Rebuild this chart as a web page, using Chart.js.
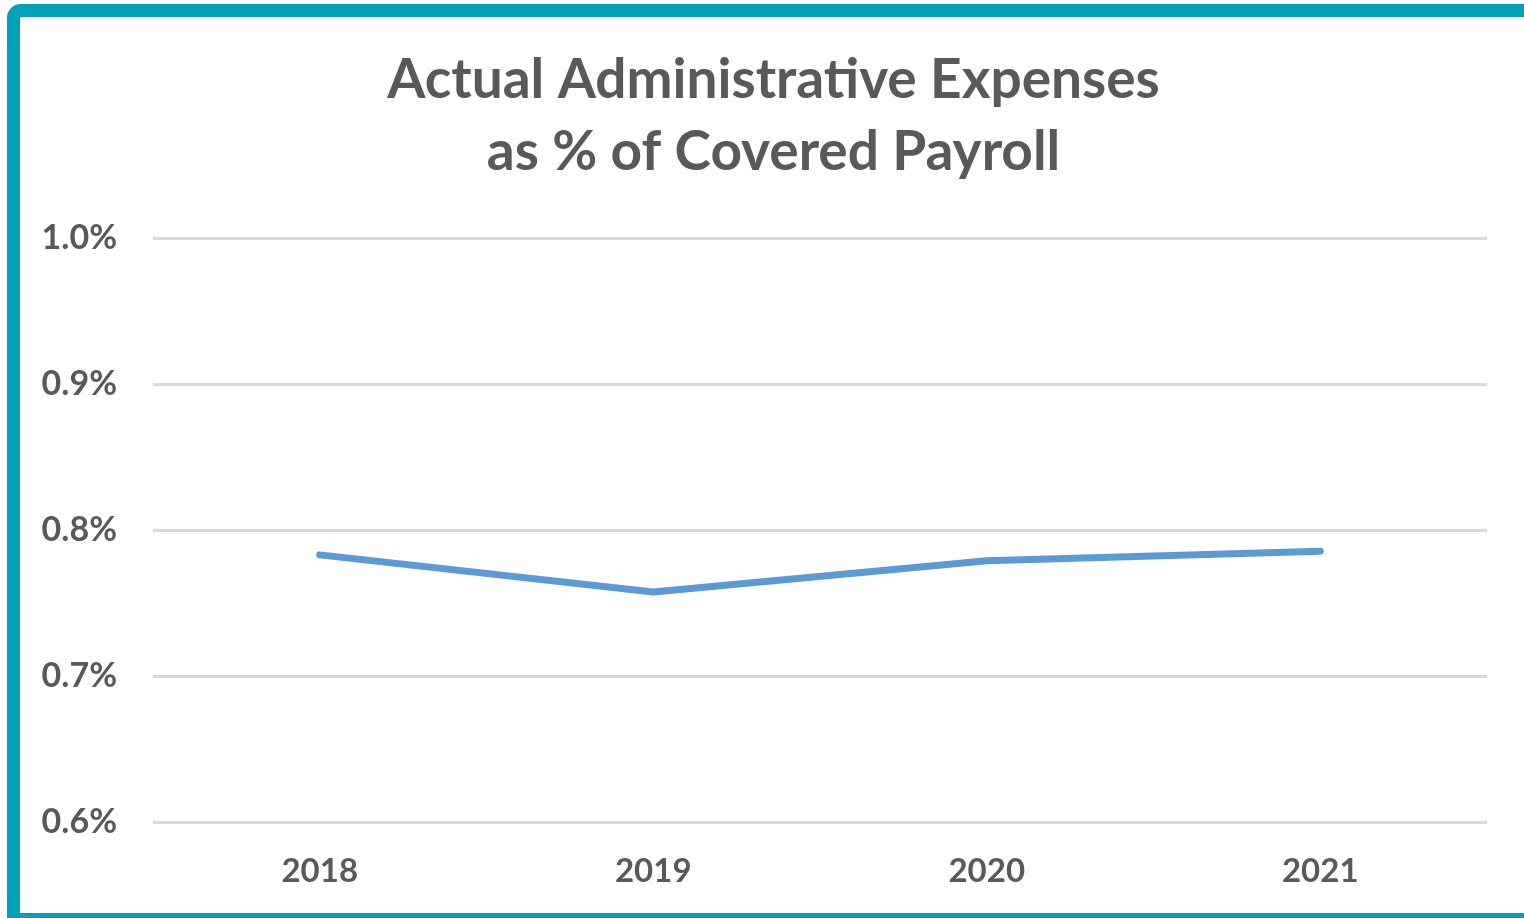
<!DOCTYPE html>
<html>
<head>
<meta charset="utf-8">
<script src="https://cdn.jsdelivr.net/npm/chart.js@4.4.1/dist/chart.umd.min.js"></script>
<style>
  html, body { margin: 0; padding: 0; background: #ffffff; overflow: hidden; }
  #frame { position: absolute; left: 7px; top: 4px; width: 1560px; height: 896px;
           border: 13px solid #00A2B6; border-top-left-radius: 14px; box-sizing: content-box; }
  #wrap { position: absolute; left: 0; top: 0; width: 1524px; height: 918px; }
</style>
</head>
<body>
<div id="frame"></div>
<div id="wrap"><canvas id="c" width="1524" height="918"></canvas></div>
<script>
const categories = ['2018', '2019', '2020', '2021'];
const expenseRatio = [0.783, 0.7575, 0.779, 0.7855];
const yTicks = [0.6, 0.7, 0.8, 0.9, 1.0];
const titleLines = ['Actual Administrative Expenses', 'as % of Covered Payroll'];

const gray = '#595959';
const font = 'Lato';

const shiftTitle = {
  id: 'shiftTitle',
  afterLayout(chart) {
    if (chart.titleBlock) { chart.titleBlock.left += 60; }
  }
};

new Chart(document.getElementById('c'), {
  type: 'line',
  data: {
    labels: categories,
    datasets: [{
      data: expenseRatio,
      borderColor: '#5B9BD5',
      borderWidth: 7,
      borderCapStyle: 'round',
      borderJoinStyle: 'round',
      pointRadius: 0,
      tension: 0,
      fill: false
    }]
  },
  plugins: [shiftTitle],
  options: {
    responsive: false,
    animation: false,
    layout: { padding: { left: 0, right: 37, top: 0, bottom: 0 } },
    plugins: {
      legend: { display: false },
      tooltip: { enabled: false },
      title: {
        display: true,
        text: titleLines,
        color: gray,
        font: { family: font, size: 55, weight: 'bold', lineHeight: 1.31 },
        padding: { top: 44, bottom: 50 }
      }
    },
    scales: {
      x: {
        offset: true,
        grid: { display: false, drawTicks: false, offset: true },
        border: { display: false },
        ticks: { color: gray, font: { family: font, size: 33, weight: 'bold' }, padding: 30 },
        afterFit: s => { s.height = 96; }
      },
      y: {
        min: 0.6, max: 1.0,
        afterBuildTicks: s => { s.ticks = yTicks.map(v => ({ value: v })); },
        grid: { color: '#D9D9D9', lineWidth: 3, drawTicks: false },
        border: { display: false },
        ticks: {
          color: gray,
          font: { family: font, size: 34, weight: 'bold' },
          padding: 36,
          callback: v => v.toFixed(1) + '%'
        },
        afterFit: s => { s.width = 153; }
      }
    }
  }
});
</script>
</body>
</html>
